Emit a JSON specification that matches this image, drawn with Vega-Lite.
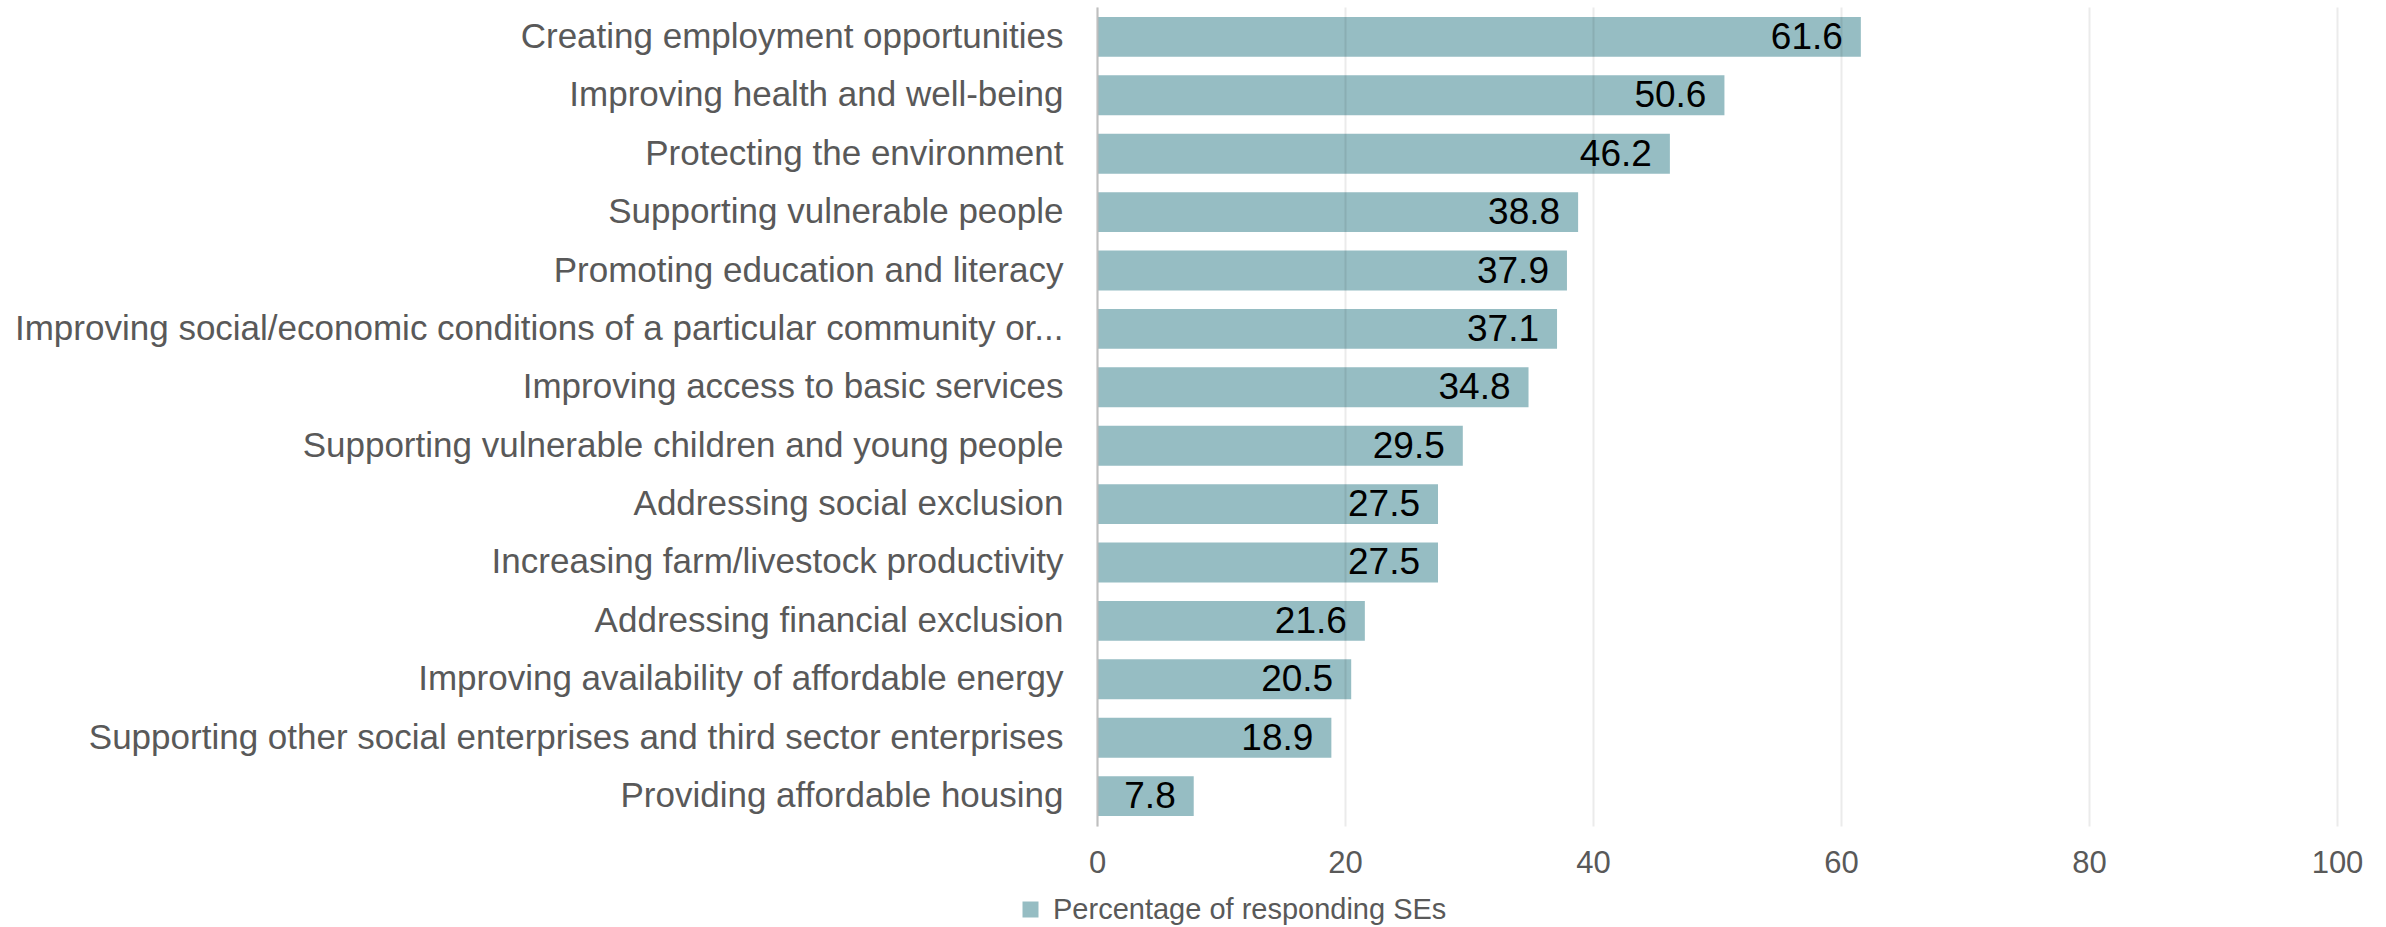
{
  "$schema": "https://vega.github.io/schema/vega-lite/v6.json",
  "autosize": {"type": "none"},
  "padding": {"left": 1097, "top": 7, "right": 49, "bottom": 101},
  "width": 1240,
  "height": 819,
  "background": "white",
  "config": {"view": {"stroke": null}},
  "data": {"values": [
    {"objective": "Creating employment opportunities", "pct": 61.6, "series": "Percentage of responding SEs"},
    {"objective": "Improving health and well-being", "pct": 50.6, "series": "Percentage of responding SEs"},
    {"objective": "Protecting the environment", "pct": 46.2, "series": "Percentage of responding SEs"},
    {"objective": "Supporting vulnerable people", "pct": 38.8, "series": "Percentage of responding SEs"},
    {"objective": "Promoting education and literacy", "pct": 37.9, "series": "Percentage of responding SEs"},
    {"objective": "Improving social/economic conditions of a particular community or...", "pct": 37.1, "series": "Percentage of responding SEs"},
    {"objective": "Improving access to basic services", "pct": 34.8, "series": "Percentage of responding SEs"},
    {"objective": "Supporting vulnerable children and young people", "pct": 29.5, "series": "Percentage of responding SEs"},
    {"objective": "Addressing social exclusion", "pct": 27.5, "series": "Percentage of responding SEs"},
    {"objective": "Increasing farm/livestock productivity", "pct": 27.5, "series": "Percentage of responding SEs"},
    {"objective": "Addressing financial exclusion", "pct": 21.6, "series": "Percentage of responding SEs"},
    {"objective": "Improving availability of affordable energy", "pct": 20.5, "series": "Percentage of responding SEs"},
    {"objective": "Supporting other social enterprises and third sector enterprises", "pct": 18.9, "series": "Percentage of responding SEs"},
    {"objective": "Providing affordable housing", "pct": 7.8, "series": "Percentage of responding SEs"}
  ]},
  "encoding": {
    "y": {
      "field": "objective", "type": "nominal", "sort": null,
      "scale": {"paddingInner": 0.316, "paddingOuter": 0.17},
      "axis": {
        "title": null, "ticks": false, "domain": true, "domainColor": "#BFBFBF", "domainWidth": 2,
        "labelFont": "Liberation Sans", "labelFontSize": 35, "labelColor": "#595959",
        "labelPadding": 34, "labelLimit": 1200, "grid": false, "zindex": 1
      }
    },
    "x": {
      "field": "pct", "type": "quantitative",
      "scale": {"domain": [0, 100], "nice": false},
      "axis": {
        "title": null, "values": [0, 20, 40, 60, 80, 100], "ticks": false, "domain": false,
        "grid": true, "gridColor": "#000000", "gridOpacity": 0.08, "gridWidth": 2, "labelFlush": false,
        "labelFont": "Liberation Sans", "labelFontSize": 31, "labelColor": "#595959",
        "labelPadding": 22, "zindex": 1
      }
    }
  },
  "layer": [
    {
      "mark": {"type": "bar", "color": "#96BDC3"},
      "encoding": {
        "color": {
          "field": "series", "type": "nominal",
          "scale": {"range": ["#96BDC3"]},
          "legend": {
            "title": null, "orient": "none", "legendX": -81, "legendY": 888,
            "symbolType": "square", "symbolSize": 256, "symbolStrokeWidth": 0,
            "labelFont": "Liberation Sans", "labelFontSize": 29, "labelColor": "#595959",
            "labelOffset": 8, "labelLimit": 800
          }
        }
      }
    },
    {
      "mark": {"type": "text", "align": "right", "baseline": "middle", "dx": -18, "dy": 1,
        "font": "Liberation Sans", "fontSize": 37, "color": "#000000"},
      "encoding": {
        "text": {"field": "pct", "type": "quantitative", "format": ".1f"}
      }
    }
  ]
}
